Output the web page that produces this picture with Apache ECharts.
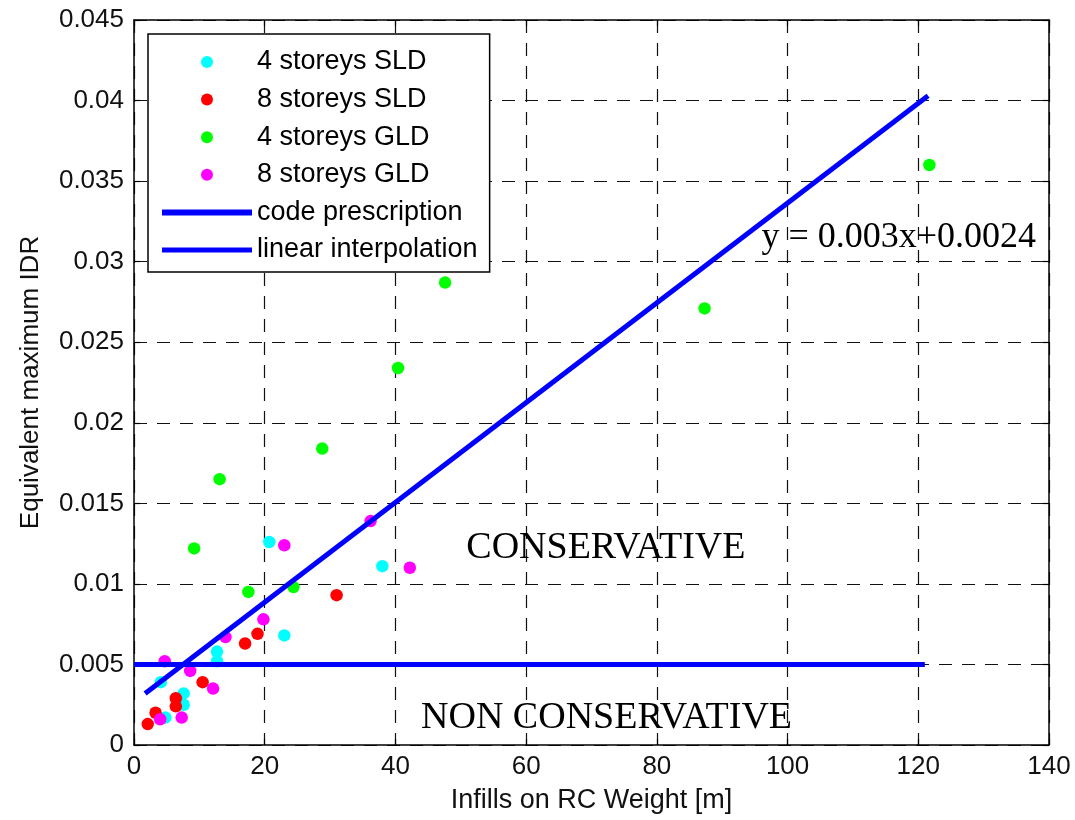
<!DOCTYPE html>
<html>
<head>
<meta charset="utf-8">
<script src="https://cdn.jsdelivr.net/npm/echarts@6/dist/echarts.min.js"></script>
<style>
  html, body { margin: 0; background: #fff; }
  #chart { width: 1075px; height: 820px; }
</style>
</head>
<body>
<div id="chart"></div>
<script>
// data: [infill/RC weight, equivalent max IDR]
const sld4 = [[4.1, 0.0039], [4.8, 0.0017], [7.6, 0.0032], [7.6, 0.0025], [12.7, 0.0058],
  [12.7, 0.0052], [20.7, 0.0126], [23.0, 0.0068], [38.0, 0.0111]]
const sld8 = [[2.1, 0.0013], [3.3, 0.0020], [6.4, 0.0029], [6.4, 0.0024], [10.5, 0.0039],
  [17.0, 0.0063], [18.9, 0.0069], [31.0, 0.0093]]
const gld4 = [[9.2, 0.0122], [13.1, 0.0165], [17.5, 0.0095], [24.4, 0.0098], [28.8, 0.0184],
  [40.4, 0.0234], [47.6, 0.0287], [87.3, 0.0271], [121.7, 0.0360]]
const gld8 = [[4.0, 0.0016], [4.7, 0.0052], [7.3, 0.0017], [8.6, 0.0046], [12.1, 0.0035],
  [14.0, 0.0067], [19.8, 0.0078], [23.0, 0.0124], [36.2, 0.0139], [42.2, 0.0110]]
const codeLine = [[0, 0.005], [121, 0.005]]
const interpLine = [[1.7, 0.0032], [121.5, 0.0403]]

const xTicks = ['0', '20', '40', '60', '80', '100', '120', '140']
const yTicks = ['0', '0.005', '0.01', '0.015', '0.02', '0.025', '0.03', '0.035', '0.04', '0.045']

const notes = [
  { value: [117.0, 0.0315], text: 'y = 0.003x+0.0024', size: 36 },
  { value: [72.2, 0.0122], text: 'CONSERVATIVE', size: 38 },
  { value: [72.3, 0.0017], text: 'NON CONSERVATIVE', size: 38 }
]

const sans = "'Liberation Sans', Arial, sans-serif"
const serif = "'Liberation Serif', 'Times New Roman', serif"

const chart = echarts.init(document.getElementById('chart'))

const dashed = { show: true, lineStyle: { color: '#111', width: 1.2, type: [13, 10] } }
const tick = { show: true, inside: true, length: 6, lineStyle: { color: '#000', width: 1.2 } }
const axisLine = { show: true, onZero: false, lineStyle: { color: '#000', width: 1.5 } }

function dots (name, data, color) {
  return {
    name: name,
    type: 'scatter',
    data: data,
    symbol: 'circle',
    symbolSize: 12.5,
    itemStyle: { color: color, opacity: 1 },
    z: 2
  }
}

chart.setOption({
  animation: false,
  backgroundColor: '#fff',
  grid: { left: 134, top: 20, width: 915, height: 725 },
  legend: {
    orient: 'vertical',
    left: 148,
    top: 34,
    padding: [14, 12, 8, 14],
    itemWidth: 90,
    itemHeight: 12,
    itemGap: 9.6,
    backgroundColor: '#fff',
    borderColor: '#000',
    borderWidth: 1.5,
    textStyle: { fontFamily: sans, fontSize: 27, color: '#000', lineHeight: 28 },
    data: [
      { name: '4 storeys SLD', icon: 'circle' },
      { name: '8 storeys SLD', icon: 'circle' },
      { name: '4 storeys GLD', icon: 'circle' },
      { name: '8 storeys GLD', icon: 'circle' },
      { name: 'code prescription', icon: 'path://M0,0H90V6H0Z' },
      { name: 'linear interpolation', icon: 'path://M0,0H90V5H0Z' }
    ]
  },
  xAxis: [{
    type: 'value', min: 0, max: 140, interval: 20,
    name: 'Infills on RC Weight [m]', nameLocation: 'middle', nameGap: 42,
    nameTextStyle: { fontFamily: sans, fontSize: 27, color: '#111' },
    axisLine: axisLine, axisTick: tick, splitLine: dashed,
    axisLabel: { fontFamily: sans, fontSize: 26, color: '#111', margin: 9,
      formatter: (v) => xTicks[Math.round(v / 20)] }
  }, {
    type: 'value', min: 0, max: 140, interval: 20, position: 'top',
    axisLine: axisLine, axisTick: tick, splitLine: { show: false }, axisLabel: { show: false }
  }],
  yAxis: [{
    type: 'value', min: 0, max: 0.045, interval: 0.005,
    name: 'Equivalent maximum IDR', nameLocation: 'middle', nameGap: 90,
    nameTextStyle: { fontFamily: sans, fontSize: 26, color: '#111' },
    axisLine: axisLine, axisTick: tick, splitLine: dashed,
    axisLabel: { fontFamily: sans, fontSize: 26, color: '#111', margin: 10,
      formatter: (v) => yTicks[Math.round(v / 0.005)] }
  }, {
    type: 'value', min: 0, max: 0.045, interval: 0.005, position: 'right',
    axisLine: axisLine, axisTick: tick, splitLine: { show: false }, axisLabel: { show: false }
  }],
  series: [
    dots('4 storeys SLD', sld4, '#00ffff'),
    dots('8 storeys SLD', sld8, '#ff0000'),
    dots('4 storeys GLD', gld4, '#00ff00'),
    dots('8 storeys GLD', gld8, '#ff00ff'),
    {
      name: 'code prescription', type: 'line', data: codeLine,
      symbol: 'none', color: '#0000ff',
      lineStyle: { color: '#0000ff', width: 5 }, z: 3
    },
    {
      name: 'linear interpolation', type: 'line', data: interpLine,
      symbol: 'none', color: '#0000ff',
      lineStyle: { color: '#0000ff', width: 5 }, z: 3
    },
    {
      name: 'notes', type: 'scatter', symbolSize: 0, z: 4,
      data: notes.map(n => ({
        value: n.value,
        label: { fontSize: n.size, formatter: n.text }
      })),
      label: {
        show: true, position: 'inside',
        fontFamily: serif, color: '#000', opacity: 1
      },
      itemStyle: { opacity: 1 }
    }
  ]
})
</script>
</body>
</html>
